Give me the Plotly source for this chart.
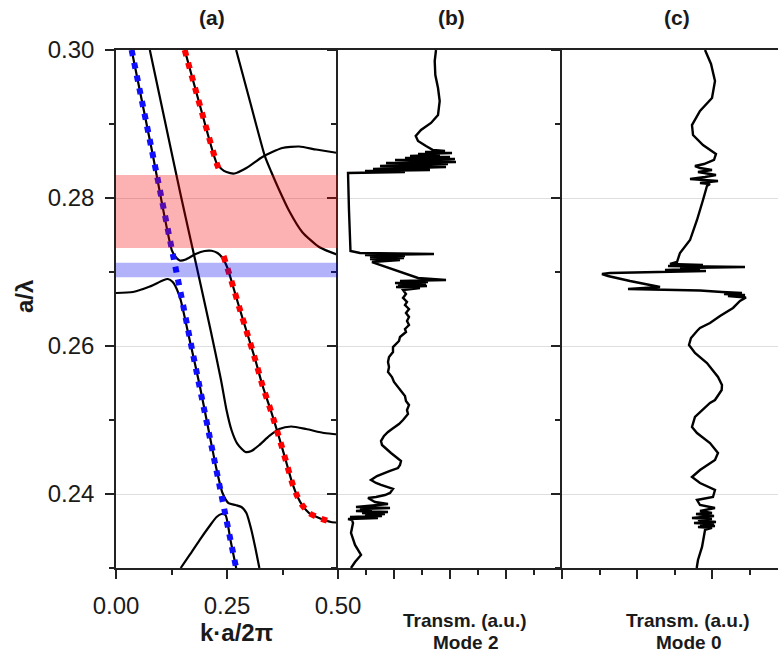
import plotly.graph_objects as go

# ---------------- panel (a): photonic bands, k·a/2π vs a/λ ----------------
band1_k = [0.0352, 0.0807, 0.1256, 0.1345, 0.1435, 0.1570, 0.1794, 0.1996, 0.2152,
           0.2287, 0.2399, 0.2511, 0.2601, 0.2780, 0.2960, 0.3139, 0.3296, 0.3498,
           0.3677, 0.3834, 0.3969, 0.4081, 0.4193, 0.4350, 0.4574, 0.4843, 0.5000]
band1_f = [0.30000, 0.28649, 0.27297, 0.27203, 0.27155, 0.27169, 0.27243, 0.27284, 0.27287,
           0.27257, 0.27189, 0.27054, 0.26878, 0.26514, 0.26162, 0.25811, 0.25473, 0.25108,
           0.24757, 0.24432, 0.24149, 0.23973, 0.23851, 0.23743, 0.23676, 0.23622, 0.23615]

band2_k = [0.0762, 0.1121, 0.1457, 0.1682, 0.1883, 0.2130, 0.2365, 0.2489, 0.2601, 0.2735,
           0.2915, 0.3049, 0.3229, 0.3453, 0.3677, 0.3946, 0.4283, 0.4686, 0.5000]
band2_f = [0.30000, 0.28986, 0.28041, 0.27432, 0.26892, 0.26216, 0.25541, 0.25135, 0.24865, 0.24676,
           0.24568, 0.24581, 0.24662, 0.24784, 0.24878, 0.24912, 0.24878, 0.24824, 0.24804]

band3_k = [0.2706, 0.3027, 0.3357, 0.3498, 0.3655, 0.3901, 0.4193, 0.4574, 0.5000]
band3_f = [0.30000, 0.29284, 0.28558, 0.28351, 0.28135, 0.27824, 0.27541, 0.27338, 0.27230]

band4_k = [0.1547, 0.1906, 0.2265, 0.2377, 0.2489, 0.2668, 0.2937, 0.3296, 0.3744, 0.4126,
           0.4507, 0.5000]
band4_f = [0.30000, 0.29216, 0.28473, 0.28392, 0.28351, 0.28331, 0.28405, 0.28554, 0.28676, 0.28696,
           0.28655, 0.28608]

band5_k = [0.0000, 0.0381, 0.0762, 0.1054, 0.1166, 0.1278, 0.1368, 0.1457, 0.1659, 0.1883,
           0.2085, 0.2253, 0.2399, 0.2534, 0.2691, 0.2825, 0.2937, 0.3049, 0.3139, 0.3229]
band5_f = [0.26716, 0.26730, 0.26804, 0.26885, 0.26905, 0.26865, 0.26770, 0.26622, 0.26081, 0.25473,
           0.24865, 0.24365, 0.24014, 0.23878, 0.23851, 0.23824, 0.23743, 0.23514, 0.23270, 0.23000]

band6_k = [0.1457, 0.1659, 0.1883, 0.2108, 0.2265, 0.2377, 0.2466, 0.2578, 0.2706]
band6_f = [0.23000, 0.23176, 0.23378, 0.23568, 0.23689, 0.23730, 0.23716, 0.23378, 0.23000]

# index-guided lines (dotted)
mode0_k = [0.0352, 0.1456, 0.2706]
mode0_f = [0.30000, 0.26716, 0.23000]

mode2_upper_k = [0.1547, 0.1906, 0.2265, 0.2325]
mode2_upper_f = [0.30000, 0.29216, 0.28473, 0.28380]
mode2_lower_k = [0.2422, 0.2511, 0.2601, 0.2780, 0.2960, 0.3139, 0.3296, 0.3498, 0.3677,
                 0.3834, 0.3969, 0.4081, 0.4193, 0.4350, 0.4574, 0.4843]
mode2_lower_f = [0.27216, 0.27050, 0.26878, 0.26514, 0.26162, 0.25811, 0.25473, 0.25108, 0.24757,
                 0.24432, 0.24149, 0.23973, 0.23851, 0.23743, 0.23676, 0.23622]

# stop bands
gap_mode2 = (0.27324, 0.28310)
gap_mode0 = (0.26928, 0.27126)

# ---------------- panel (b): transmission, mode 2 ----------------
trans_b = [1.750, 1.727, 1.738, 1.786, 1.816, 1.786, 1.661, 1.482, 1.388, 1.429, 1.571, 1.696,
           1.911, 1.554, 2.036, 1.429, 1.821, 1.286, 2.000, 1.196, 2.089, 1.018, 2.107, 0.857,
           1.964, 0.750, 1.929, 0.625, 1.643, 0.482, 1.196, 0.179,
           0.196, 0.223,
           0.393, 1.714, 0.482, 1.196, 0.571, 1.179, 0.571, 1.107, 0.607,
           1.018, 1.429, 1.929, 1.107, 1.607, 1.018, 1.571, 1.071, 1.589, 1.036, 1.464, 1.161,
           1.214, 1.161, 1.232, 1.196, 1.268, 1.214, 1.268, 1.232, 1.268, 1.196, 1.214, 1.107,
           1.089, 0.982, 0.982, 0.911, 0.893, 0.911, 0.893, 0.964, 1.000, 1.071, 1.125, 1.196,
           1.214, 1.268, 1.232, 1.250, 1.161, 1.089, 0.964, 0.893, 0.821, 0.768, 0.786, 0.857,
           0.946, 1.036, 1.125, 1.107, 1.071, 0.929, 0.821, 0.696, 0.589, 0.679, 0.768, 0.893,
           0.982, 0.929, 0.839, 0.679, 0.536,
           0.661, 0.893, 0.714, 0.321, 0.929, 0.393, 0.607, 0.321, 0.893, 0.429, 0.839, 0.482,
           0.786, 0.214, 0.714, 0.179, 0.250,
           0.268, 0.232, 0.304, 0.411, 0.304, 0.232]
freq_b = [0.30000, 0.29851, 0.29662, 0.29486, 0.29311, 0.29122, 0.29014, 0.28919, 0.28838, 0.28770,
          0.28703, 0.28649,
          0.28635, 0.28622, 0.28608, 0.28595, 0.28581, 0.28568, 0.28554, 0.28541, 0.28527, 0.28514,
          0.28486, 0.28473, 0.28459, 0.28432, 0.28419, 0.28392, 0.28378, 0.28365, 0.28351, 0.28338,
          0.27838, 0.27284,
          0.27257, 0.27243, 0.27230, 0.27216, 0.27203, 0.27189, 0.27176, 0.27162, 0.27135,
          0.27027, 0.26919, 0.26892, 0.26878, 0.26865, 0.26851, 0.26838, 0.26824, 0.26811, 0.26797,
          0.26784, 0.26757,
          0.26703, 0.26649, 0.26595, 0.26554, 0.26500, 0.26446, 0.26392, 0.26338, 0.26284, 0.26230,
          0.26189, 0.26122, 0.26068, 0.25986, 0.25919, 0.25851, 0.25784, 0.25716, 0.25649, 0.25581,
          0.25514, 0.25446, 0.25392, 0.25324, 0.25257, 0.25203, 0.25135, 0.25081, 0.25000, 0.24946,
          0.24878, 0.24838, 0.24784, 0.24716, 0.24662, 0.24608, 0.24554, 0.24500, 0.24446, 0.24392,
          0.24351, 0.24311, 0.24284, 0.24243, 0.24189, 0.24149, 0.24122, 0.24095, 0.24068, 0.24014,
          0.23986, 0.23959, 0.23946,
          0.23892, 0.23865, 0.23851, 0.23824, 0.23811, 0.23797, 0.23784, 0.23770, 0.23757, 0.23743,
          0.23730, 0.23716, 0.23703, 0.23689, 0.23676, 0.23662, 0.23649,
          0.23608, 0.23473, 0.23311, 0.23176, 0.23081, 0.23000]

# ---------------- panel (c): transmission, mode 0 ----------------
trans_c = [1.907, 1.987, 2.040, 2.000, 1.840, 1.733, 1.747, 1.880, 2.053, 2.027, 1.893, 1.773,
           1.840, 2.000, 1.813, 2.053, 1.907, 1.707, 2.080, 1.840, 1.973, 1.933, 1.880, 1.800,
           1.707, 1.573, 1.533, 1.440, 1.880, 1.413, 2.440, 1.573, 1.840, 1.373, 1.920, 1.040,
           0.640, 0.533, 0.613, 0.907, 1.307, 0.880, 1.413, 1.840, 2.133, 2.400, 2.160, 2.440,
           2.213, 2.453, 2.373, 2.280, 2.107, 1.973, 1.840, 1.800, 1.720, 1.693, 1.773, 1.933,
           2.080, 2.133, 2.129, 2.040, 1.973, 1.773, 1.733, 1.800, 1.973, 2.080, 2.040, 1.840,
           1.733, 1.840, 2.040, 2.013, 1.800, 1.840, 2.040, 1.840, 2.000, 1.787, 2.027, 1.733,
           2.000, 1.813, 2.053, 1.760, 2.027, 1.840, 2.040, 1.813, 2.000, 1.907, 1.867, 1.813,
           1.796]
freq_c = [0.30000, 0.29811, 0.29581, 0.29351, 0.29176, 0.28986, 0.28851, 0.28716, 0.28595, 0.28514,
          0.28459, 0.28432, 0.28405, 0.28378, 0.28351, 0.28311, 0.28284, 0.28257, 0.28230, 0.28203,
          0.28189, 0.28162, 0.27973, 0.27703, 0.27432, 0.27257, 0.27135, 0.27108, 0.27095, 0.27081,
          0.27068, 0.27054, 0.27041, 0.27027, 0.27014, 0.27000, 0.26986, 0.26973, 0.26946, 0.26878,
          0.26797, 0.26770, 0.26764, 0.26750, 0.26730, 0.26716, 0.26703, 0.26689, 0.26676, 0.26655,
          0.26608, 0.26514, 0.26405, 0.26311, 0.26243, 0.26203, 0.26108, 0.26014, 0.25905, 0.25770,
          0.25581, 0.25473, 0.25405, 0.25270, 0.25230, 0.25041, 0.24905, 0.24824, 0.24689, 0.24554,
          0.24459, 0.24324, 0.24230, 0.24149, 0.24054, 0.23959, 0.23919, 0.23851, 0.23811, 0.23770,
          0.23743, 0.23730, 0.23703, 0.23676, 0.23662, 0.23649, 0.23622, 0.23608, 0.23595, 0.23581,
          0.23568, 0.23554, 0.23541, 0.23514, 0.23284, 0.23108, 0.23000]

# ---------------- axis ticks ----------------
freq_ticks = [0.24, 0.26, 0.28, 0.30]
freq_ticktext = ["0.24", "0.26", "0.28", "0.30"]
freq_minor = [0.23, 0.25, 0.27, 0.29]
k_ticks = [0.0, 0.25, 0.5]
k_ticktext = ["0.00", "0.25", "0.50"]
k_minor = [0.125, 0.375]

FONT = "Liberation Sans, Arial, sans-serif"
INK = "#1a1a1a"
FRAME = "#222222"

fig = go.Figure()

black_bands = [(band1_k, band1_f), (band2_k, band2_f), (band3_k, band3_f),
               (band4_k, band4_f), (band5_k, band5_f), (band6_k, band6_f)]
for kk, ff in black_bands:
    fig.add_trace(go.Scatter(x=kk, y=ff, mode="lines", xaxis="x", yaxis="y",
                             line=dict(color="black", width=2.2, shape="spline", smoothing=0.6),
                             showlegend=False, hoverinfo="skip"))

dots = "6px,7px"
fig.add_trace(go.Scatter(x=mode0_k, y=mode0_f, mode="lines", xaxis="x", yaxis="y",
                         line=dict(color="#1010ff", width=6, dash=dots),
                         showlegend=False, hoverinfo="skip"))
for kk, ff in [(mode2_upper_k, mode2_upper_f), (mode2_lower_k, mode2_lower_f)]:
    fig.add_trace(go.Scatter(x=kk, y=ff, mode="lines", xaxis="x", yaxis="y",
                             line=dict(color="#ff0000", width=6, dash=dots, shape="spline", smoothing=0.6),
                             showlegend=False, hoverinfo="skip"))

fig.add_trace(go.Scatter(x=trans_b, y=freq_b, mode="lines", xaxis="x2", yaxis="y2",
                         line=dict(color="black", width=2.4),
                         showlegend=False, hoverinfo="skip"))
fig.add_trace(go.Scatter(x=trans_c, y=freq_c, mode="lines", xaxis="x3", yaxis="y3",
                         line=dict(color="black", width=2.4),
                         showlegend=False, hoverinfo="skip"))

W, H = 778, 653
left_a, right_a, right_b = 116 / W, 338 / W, 562 / W
y_dom = [1 - 568 / H, 1 - 50 / H]

# each panel draws only its left spine; the next panel's spine closes the frame
common_y = dict(range=[0.23, 0.30], domain=y_dom, tickmode="array", tickvals=freq_ticks,
                ticks="outside", ticklen=9, tickwidth=1.5, tickcolor=FRAME,
                showline=True, linecolor=FRAME, linewidth=1.5, automargin=False, mirror=False,
                showgrid=True, gridcolor="#dedede", gridwidth=1, zeroline=False,
                minor=dict(tickvals=freq_minor, ticks="outside", ticklen=5, tickwidth=1.5,
                           tickcolor=FRAME, showgrid=False))
common_x = dict(ticks="outside", ticklen=9, tickwidth=1.5, tickcolor=FRAME,
                showline=True, linecolor=FRAME, linewidth=1.5, mirror=True, automargin=False,
                showgrid=False, zeroline=False)

fig.update_layout(
    width=W, height=H,
    margin=dict(l=0, r=0, t=0, b=0, pad=0),
    paper_bgcolor="white", plot_bgcolor="white",
    font=dict(family=FONT, color=INK),
    xaxis=dict(domain=[left_a, right_a], range=[0, 0.5], anchor="y",
               tickmode="array", tickvals=k_ticks, ticktext=k_ticktext,
               tickfont=dict(size=24, color=INK), ticklabelstandoff=6,
               minor=dict(tickvals=k_minor, ticks="outside", ticklen=5, tickwidth=1.5, tickcolor=FRAME),
               **common_x),
    yaxis=dict(anchor="x", ticktext=freq_ticktext, tickfont=dict(size=24, color=INK),
               ticklabelstandoff=6, **common_y),
    xaxis2=dict(domain=[right_a, right_b], range=[0, 4], anchor="y2",
                tickmode="linear", tick0=0, dtick=1, showticklabels=False,
                minor=dict(dtick=0.5, ticks="outside", ticklen=5, tickwidth=1.5, tickcolor=FRAME),
                **common_x),
    yaxis2=dict(anchor="x2", showticklabels=False, **common_y),
    xaxis3=dict(domain=[right_b, 1.0], range=[0, 2.88], anchor="y3",
                tickmode="linear", tick0=0, dtick=1, showticklabels=False,
                minor=dict(dtick=0.5, ticks="outside", ticklen=5, tickwidth=1.5, tickcolor=FRAME),
                **common_x),
    yaxis3=dict(anchor="x3", showticklabels=False, **common_y),
)

# stop-band shading over the band diagram
for (lo, hi), col in [(gap_mode2, "rgba(245,0,0,0.30)"), (gap_mode0, "rgba(0,0,240,0.30)")]:
    fig.add_shape(type="rect", xref="x", yref="y", x0=0, x1=0.5, y0=lo, y1=hi,
                  fillcolor=col, line=dict(width=0), layer="above")

def label(text, xp, yp, size, bold=True, angle=0):
    fig.add_annotation(text=f"<b>{text}</b>" if bold else text, xref="paper", yref="paper",
                       x=xp / W, y=1 - yp / H, xanchor="center", yanchor="middle",
                       showarrow=False, textangle=angle,
                       font=dict(family=FONT, size=size, color=INK))

label("(a)", 212, 17, 21)
label("(b)", 451, 17, 21)
label("(c)", 677, 17, 21)
label("a/λ", 25, 297, 24, angle=-90)
label("k·a/2π", 236, 632, 24)
label("Transm. (a.u.)", 465, 620, 19)
label("Mode 2", 465, 642, 19)
label("Transm. (a.u.)", 688, 620, 19)
label("Mode 0", 688, 642, 19)

fig.write_html("out.html")
